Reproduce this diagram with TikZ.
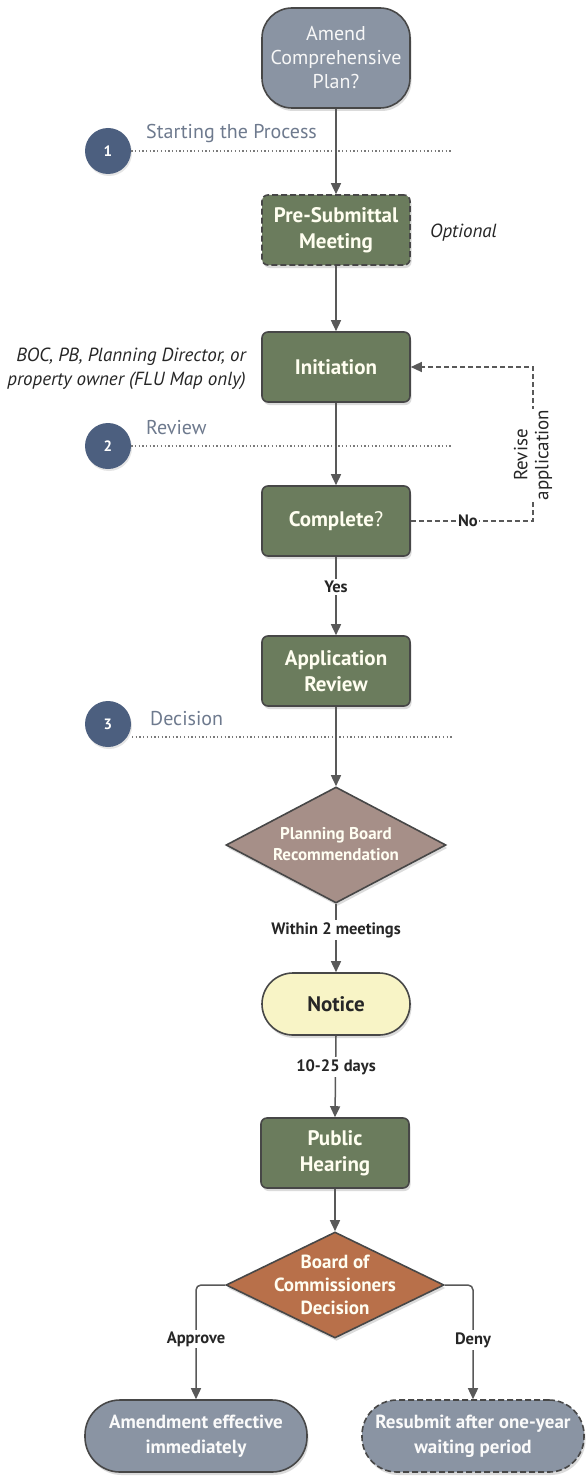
\documentclass[tikz,border=0pt]{standalone}
\usepackage{fontspec}
\setmainfont{PT Sans}
\usetikzlibrary{shapes.geometric,arrows.meta,shadows}
\definecolor{termgray}{HTML}{8A94A3}
\definecolor{boxgreen}{HTML}{6B7C5D}
\definecolor{edgedark}{HTML}{474747}
\definecolor{stepblue}{HTML}{4C5F7F}
\definecolor{steptext}{HTML}{6E7A8E}
\definecolor{pbrose}{HTML}{A68F88}
\definecolor{bocorange}{HTML}{B8704A}
\definecolor{noticeyellow}{HTML}{F8F4C6}
\definecolor{linegray}{HTML}{595959}
\definecolor{dotgray}{HTML}{7A7A7A}
\definecolor{lbltext}{HTML}{262626}
\begin{document}
\begin{tikzpicture}[x=1pt,y=-1pt,
  shade/.style={drop shadow={opacity=0.28,shadow xshift=1.5pt,shadow yshift=-3pt}},
  procbox/.style={draw=edgedark,line width=1.6pt,fill=boxgreen,rounded corners=6pt,
    minimum width=148pt,minimum height=70pt,align=center,text=white!94!yellow,
    font=\fontsize{21}{26}\selectfont\bfseries,shade},
  term/.style={draw=edgedark,line width=1.6pt,fill=termgray,rounded corners=30pt,
    minimum width=148pt,minimum height=100pt,align=center,text=white!94!gray,
    font=\fontsize{20}{24}\selectfont,shade},
  termsm/.style={draw=edgedark,line width=1.6pt,fill=termgray,rounded corners=35pt,
    minimum width=222pt,minimum height=72pt,align=center,text=white!96!gray,
    font=\fontsize{19}{25}\selectfont\bfseries,shade},
  noticebox/.style={draw=edgedark,line width=1.6pt,fill=noticeyellow,rounded corners=31pt,
    minimum width=148pt,minimum height=62pt,align=center,text=lbltext,
    font=\fontsize{21}{24}\selectfont\bfseries,shade},
  dshape/.style={diamond,draw=edgedark,line width=1.6pt,inner sep=0pt,shade},
  dtext/.style={align=center,text=white!95!yellow,inner sep=0pt},
  stepcirc/.style={circle,fill=stepblue,minimum size=46pt,inner sep=0pt,text=white,
    font=\fontsize{15}{16}\selectfont\bfseries,drop shadow={opacity=0.2,shadow xshift=1pt,shadow yshift=-2pt}},
  steplabel/.style={text=steptext,font=\fontsize{20}{22}\selectfont,inner sep=0pt},
  note/.style={text=lbltext,font=\fontsize{19}{24}\selectfont\itshape,inner sep=0pt},
  lbl/.style={fill=white,text=lbltext,font=\fontsize{16.5}{18}\selectfont\bfseries,inner sep=2pt},
  dotline/.style={dotgray,line width=1.3pt,dash pattern=on 1.3pt off 2.4pt},
  arr/.style={linegray,line width=1.5pt,-{Triangle[length=11pt,width=10pt]}},
  dasharr/.style={linegray,line width=1.3pt,dash pattern=on 5pt off 3pt,-{Triangle[length=11pt,width=10pt]}},
  dashedge/.style={dash pattern=on 6pt off 3pt}
]
\useasboundingbox[fill=white] (0,0) rectangle (586,1479);

% nodes
\node[term] (start) at (336,58) {Amend\\Comprehensive\\Plan?};
\node[stepcirc] (s1) at (108,151) {1};
\node[steplabel,anchor=west] (s1t) at (146,134) {Starting the Process};
\coordinate (s1e) at (452,151);

\node[procbox,dashedge] (pre) at (336,230) {Pre-Submittal\\Meeting};
\node[note,anchor=west] (opt) at (430,233) {Optional};

\node[procbox] (init) at (336,367) {Initiation};
\node[note,anchor=east,align=right] (who) at (246,369) {BOC, PB, Planning Director, or\\property owner (FLU Map only)};

\node[stepcirc] (s2) at (108,446) {2};
\node[steplabel,anchor=west] (s2t) at (146,428) {Review};
\coordinate (s2e) at (452,446);

\node[procbox] (comp) at (336,521) {Complete{\mdseries ?}};
\node[procbox] (appr) at (336,671) {Application\\Review};

\node[stepcirc] (s3) at (108,724) {3};
\node[steplabel,anchor=west] (s3t) at (150,719) {Decision};
\coordinate (s3w) at (132,737);
\coordinate (s3e) at (452,737);

\node[dshape,fill=pbrose,minimum width=220pt,minimum height=116pt] (pbr) at (336,845) {};
\node[dtext,font=\fontsize{17}{21}\selectfont\bfseries] (pbrt) at (336,844) {Planning Board\\Recommendation};

\node[noticebox] (notice) at (336,1004) {Notice};
\node[procbox] (ph) at (335,1153) {Public\\Hearing};

\node[dshape,fill=bocorange,minimum width=218pt,minimum height=106pt] (boc) at (335,1285) {};
\node[dtext,font=\fontsize{19}{23}\selectfont\bfseries] (boct) at (335,1285) {Board of\\Commissioners\\Decision};

\node[termsm] (amend) at (196,1436) {Amendment effective\\immediately};
\node[termsm,dashedge] (resub) at (473,1436) {Resubmit after one-year\\waiting period};

% step lines
\draw[dotline] (s1.east) -- (s1e);
\draw[dotline] (s2.east) -- (s2e);
\draw[dotline] (s3w) -- (s3e);

% connectors
\draw[arr] (start.south) -- (pre.north);
\draw[arr] (pre.south) -- (init.north);
\draw[arr] (init.south) -- (comp.north);
\draw[arr] (comp.south) -- (appr.north);
\draw[arr] (appr.south) -- (pbr.north);
\draw[arr] (pbr.south) -- (notice.north);
\draw[arr] (notice.south) -- (ph.north);
\draw[arr] (ph.south) -- (boc.north);
\draw[arr,rounded corners=5pt] (boc.west) -| (amend.north);
\draw[arr,rounded corners=5pt] (boc.east) -| (resub.north);

\coordinate (loop) at (533,521);
\draw[dasharr] (comp.east) -- (loop) |- (init.east);

% labels on connectors
\node[lbl] (yes) at (336,587) {Yes};
\node[lbl] (w2m) at (336,930) {Within 2 meetings};
\node[lbl] (days) at (336,1067) {10-25 days};
\node[lbl] (appl) at (196,1339) {Approve};
\node[lbl] (deny) at (473,1340) {Deny};
\node[lbl,inner sep=1pt] (no) at (468,521) {No};
\node[fill=white,rotate=90,align=center,text=lbltext,font=\fontsize{19}{21}\selectfont,inner sep=1pt] (rev) at (533,455) {Revise\\application};
\end{tikzpicture}
\end{document}
